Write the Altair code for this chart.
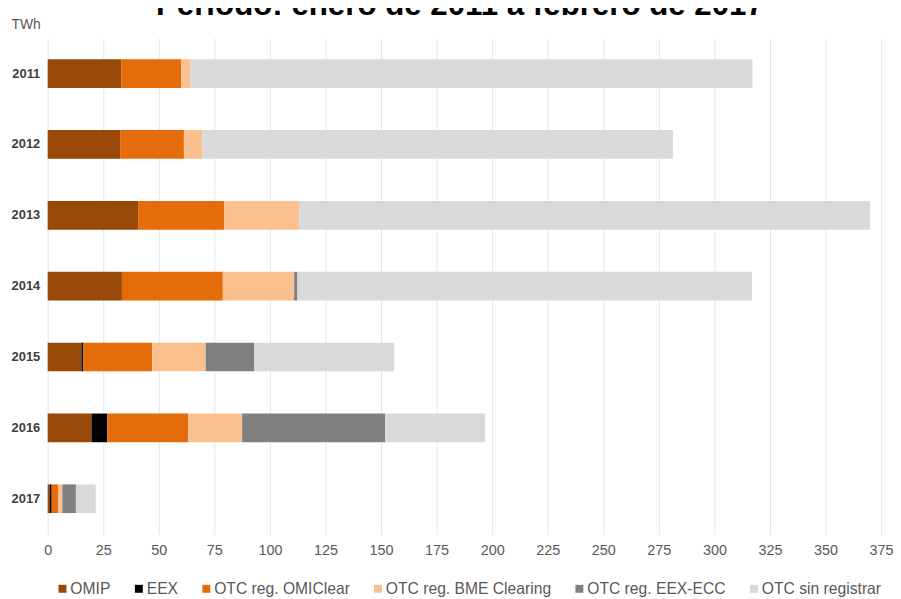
import altair as alt
import pandas as pd

years = ["2011", "2012", "2013", "2014", "2015", "2016", "2017"]
series = ["OMIP", "EEX", "OTC reg. OMIClear", "OTC reg. BME Clearing", "OTC reg. EEX-ECC", "OTC sin registrar"]
colors = ["#984807", "#000000", "#E46C0A", "#FAC090", "#808080", "#D9D9D9"]

omip = [33.1, 32.6, 40.7, 33.4, 15.2, 19.7, 1.0]
eex = [0.0, 0.0, 0.0, 0.0, 0.8, 7.1, 0.8]
omiclear = [27.0, 28.7, 38.8, 45.4, 31.0, 36.4, 3.0]
bme = [4.2, 8.3, 33.6, 32.1, 24.1, 24.3, 1.8]
eex_ecc = [0.0, 0.0, 0.0, 1.5, 21.8, 64.4, 6.1]
sin_registrar = [252.8, 211.7, 256.9, 204.5, 63.0, 44.9, 8.9]

x_ticks = list(range(0, 376, 25))
title_text = "Periodo: enero de 2011 a febrero de 2017"
unit_text = "TWh"

values = [omip, eex, omiclear, bme, eex_ecc, sin_registrar]
rows = []
for si, (name, vals) in enumerate(zip(series, values)):
    for y, v in zip(years, vals):
        rows.append({"year": y, "serie": name, "value": v, "order": si})
df = pd.DataFrame(rows)

FONT = "Liberation Sans"

bars = alt.Chart(df).mark_bar().encode(
    y=alt.Y("year:N", sort=years, title=None,
            scale=alt.Scale(paddingInner=0.595, paddingOuter=0.2975),
            axis=alt.Axis(labelFont=FONT, labelFontWeight="bold", labelFontSize=13,
                          labelColor="#404040", ticks=False, domain=False, labelPadding=8,
                          grid=False)),
    x=alt.X("value:Q", stack="zero", title=None,
            scale=alt.Scale(domain=[0, 375], nice=False),
            axis=alt.Axis(values=x_ticks, labelFont=FONT, labelFontSize=14.5,
                          labelColor="#595959", ticks=False, domain=False,
                          labelPadding=9, grid=True, gridColor="#e6e6e6",
                          labelFlush=False)),
    color=alt.Color("serie:N", sort=series,
                    scale=alt.Scale(domain=series, range=colors),
                    legend=alt.Legend(title=None, orient="none", direction="horizontal",
                                      legendX=7, legendY=547, symbolType="square",
                                      symbolSize=64, symbolStrokeWidth=0,
                                      labelFont=FONT, labelFontSize=15.8,
                                      labelColor="#595959", labelOffset=0,
                                      columnPadding=20, labelLimit=300)),
    order=alt.Order("order:Q"),
)

title = alt.Chart(pd.DataFrame({"t": [title_text]})).mark_text(
    font=FONT, fontSize=31.5, fontWeight="bold", color="#000000",
    align="center", baseline="alphabetic"
).encode(text="t:N", x=alt.value(415.5), y=alt.value(-23))

unit = alt.Chart(pd.DataFrame({"t": [unit_text]})).mark_text(
    font=FONT, fontSize=14, color="#595959", align="left", baseline="alphabetic"
).encode(text="t:N", x=alt.value(-36.5), y=alt.value(-9))

chart = alt.layer(bars, title, unit).properties(
    width=840, height=500,
    autosize=alt.AutoSizeParams(type="none"),
    padding={"left": 40, "top": 28, "right": 12, "bottom": 66},
).configure_view(stroke=None)

chart.save("out.html", embed_options={"renderer": "svg", "actions": False})
